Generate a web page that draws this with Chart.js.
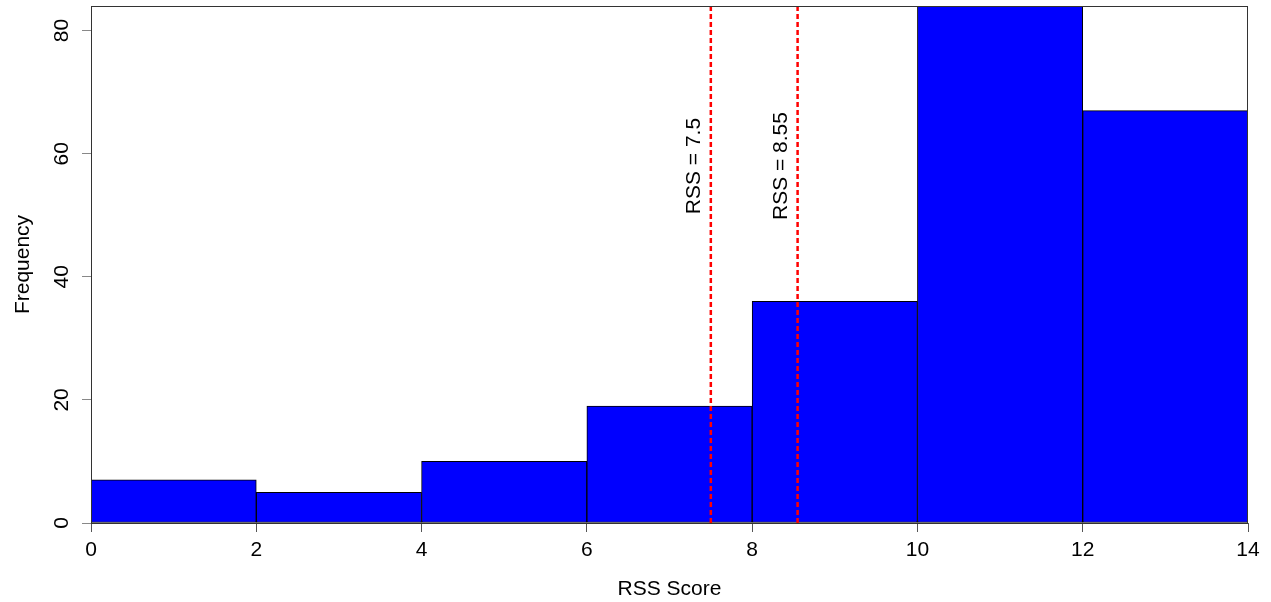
<!DOCTYPE html>
<html>
<head>
<meta charset="utf-8">
<title>RSS Score histogram</title>
<script src="https://cdn.jsdelivr.net/npm/chart.js@4/dist/chart.umd.min.js"></script>
<style>
  body { margin: 0; background: #fff; }
  #wrap { width: 1271px; height: 602px; }
</style>
</head>
<body>
<div id="wrap"><canvas id="myChart"></canvas></div>
<script>
// histogram bins (RSS Score) and counts
var binEdges = [0, 2, 4, 6, 8, 10, 12, 14];
var counts = [7, 5, 10, 19, 36, 84, 67];
var refLines = [7.5, 8.55];
var refLabels = ["RSS = 7.5", "RSS = 8.55"];
var yTicks = [0, 20, 40, 60, 80];

var FONT = "'Liberation Sans', Arial, sans-serif";

var barData = counts.map(function (c, i) {
    return { x: (binEdges[i] + binEdges[i + 1]) / 2, y: c };
});

var datasets = [{
    type: 'bar',
    label: 'Frequency',
    data: barData,
    backgroundColor: '#0000ff',
    borderColor: '#000000',
    borderWidth: 1,
    borderSkipped: false,
    barPercentage: 1.0,
    categoryPercentage: 1.0,
    order: 1
}];

refLines.forEach(function (v) {
    datasets.push({
        type: 'line',
        label: 'ref ' + v,
        data: [{ x: v, y: 0 }, { x: v, y: Math.max.apply(null, counts) }],
        borderColor: '#ff0000',
        borderWidth: 2.5,
        borderDash: [5, 3],
        pointRadius: 0,
        order: 0
    });
});

// box round the plot + rotated labels beside the dashed lines
var boxAndLabels = {
    id: 'boxAndLabels',
    afterDraw: function (chart) {
        var c = chart.ctx, a = chart.chartArea;
        var xs = chart.scales.x, ys = chart.scales.y;
        c.save();
        c.strokeStyle = '#333';
        c.lineWidth = 1;
        c.strokeRect(a.left + 0.5, a.top + 0.5, a.right - a.left - 1, a.bottom - a.top);
        c.fillStyle = '#000';
        c.font = '21px ' + FONT;
        c.textAlign = 'center';
        c.textBaseline = 'middle';
        refLines.forEach(function (v, i) {
            c.save();
            c.translate(xs.getPixelForValue(v - 0.2), ys.getPixelForValue(58));
            c.rotate(-Math.PI / 2);
            c.fillText(refLabels[i], 0, 0);
            c.restore();
        });
        c.restore();
    }
};

var ctx = document.getElementById("myChart");

var myChart = new Chart(ctx, {
    data: { datasets: datasets },
    plugins: [boxAndLabels],
    options: {
        responsive: true,
        maintainAspectRatio: false,
        animation: false,
        layout: { padding: { left: 0, top: 6, right: 23, bottom: 0 } },
        plugins: {
            legend: { display: false },
            tooltip: { enabled: false }
        },
        scales: {
            x: {
                type: 'linear',
                min: 0,
                max: 14,
                offset: false,
                grid: { offset: false, drawOnChartArea: false, drawTicks: true, tickLength: 9, color: '#555' },
                border: { display: false },
                ticks: { stepSize: 2, padding: 6, color: '#000', font: { family: FONT, size: 21 }, maxRotation: 0 },
                title: { display: true, text: 'RSS Score', color: '#000', font: { family: FONT, size: 21 }, padding: { top: 0, bottom: 0 } },
                afterFit: function (scale) {
                    scale.height = 79;
                    scale.paddingLeft = 0;
                    scale.paddingRight = 0;
                }
            },
            y: {
                type: 'linear',
                min: 0,
                max: 84,
                grid: { drawOnChartArea: false, drawTicks: true, tickLength: 9, color: '#888' },
                border: { display: false },
                afterBuildTicks: function (scale) {
                    scale.ticks = yTicks.map(function (v) { return { value: v }; });
                },
                ticks: {
                    minRotation: 90, maxRotation: 90, crossAlign: 'center', padding: 8,
                    color: '#000', font: { family: FONT, size: 21 }
                },
                title: { display: true, text: 'Frequency', color: '#000', font: { family: FONT, size: 21 }, padding: { top: 11, bottom: 0 } },
                afterFit: function (scale) {
                    scale.width = 91;
                    scale.paddingTop = 0;
                    scale.paddingBottom = 0;
                }
            }
        }
    }
});
</script>
</body>
</html>
